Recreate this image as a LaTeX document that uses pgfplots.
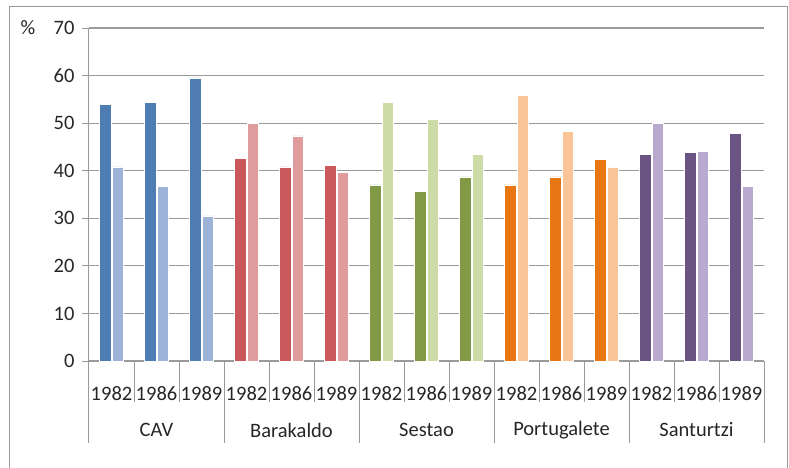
\documentclass[border=0pt]{standalone}
\usepackage{pgfplots}
\pgfplotsset{compat=1.18}
\usepackage{fontspec}
\setmainfont{Carlito}
\definecolor{cavD}{HTML}{4F7DB3}
\definecolor{cavL}{HTML}{9DB2D7}
\definecolor{barD}{HTML}{C9595A}
\definecolor{barL}{HTML}{E09C9C}
\definecolor{sesD}{HTML}{829A45}
\definecolor{sesL}{HTML}{CDDCA6}
\definecolor{porD}{HTML}{E87713}
\definecolor{porL}{HTML}{FAC597}
\definecolor{sanD}{HTML}{6A5484}
\definecolor{sanL}{HTML}{B9A9CF}
\definecolor{gridc}{HTML}{9A9A9A}
\definecolor{txt}{HTML}{262626}
\begin{document}
\begin{tikzpicture}[x=1pt,y=1pt]
\useasboundingbox (0,0) rectangle (789,-467);
\draw[gridc, line width=1pt] (9.5,-600) -- (9.5,-6.5) -- (787.5,-6.5) -- (787.5,-600);
\begin{axis}[
  at={(89pt,-361pt)}, anchor=south west,
  scale only axis, width=675pt, height=333pt,
  xmin=-0.5, xmax=14.5, ymin=0, ymax=70,
  axis x line=bottom, axis y line=left,
  axis line style={-, draw=gridc, line width=1pt},
  ytick={0,10,...,70},
  ymajorgrids, grid style={gridc, line width=1.2pt},
  ytick align=outside, major tick length=7pt,
  tick style={gridc, line width=1pt},
  xtick={0,...,14},
  xtick style={draw=none},
  xticklabels={1982,1986,1989,1982,1986,1989,1982,1986,1989,1982,1986,1989,1982,1986,1989},
  xticklabel style={anchor=center, yshift=-29pt},
  yticklabel style={anchor=east, xshift=-4pt},
  ticklabel style={font=\fontsize{20.5}{24}\selectfont, text=txt},
  /pgf/number format/assume math mode=true,
  clip=false,
]
\addplot[ybar, bar width=11.5pt, bar shift=-6.3pt, fill=cavD, draw=white, line width=0.8pt] coordinates {(0,54.0)(1,54.4)(2,59.5)};
\addplot[ybar, bar width=11.5pt, bar shift=6.5pt, fill=cavL, draw=white, line width=0.8pt] coordinates {(0,40.8)(1,36.6)(2,30.5)};
\addplot[ybar, bar width=11.5pt, bar shift=-6.3pt, fill=barD, draw=white, line width=0.8pt] coordinates {(3,42.5)(4,40.8)(5,41.1)};
\addplot[ybar, bar width=11.5pt, bar shift=6.5pt, fill=barL, draw=white, line width=0.8pt] coordinates {(3,50.0)(4,47.3)(5,39.7)};
\addplot[ybar, bar width=11.5pt, bar shift=-6.3pt, fill=sesD, draw=white, line width=0.8pt] coordinates {(6,37.0)(7,35.7)(8,38.7)};
\addplot[ybar, bar width=11.5pt, bar shift=6.5pt, fill=sesL, draw=white, line width=0.8pt] coordinates {(6,54.4)(7,50.7)(8,43.4)};
\addplot[ybar, bar width=11.5pt, bar shift=-6.3pt, fill=porD, draw=white, line width=0.8pt] coordinates {(9,37.0)(10,38.7)(11,42.4)};
\addplot[ybar, bar width=11.5pt, bar shift=6.5pt, fill=porL, draw=white, line width=0.8pt] coordinates {(9,55.8)(10,48.3)(11,40.8)};
\addplot[ybar, bar width=11.5pt, bar shift=-6.3pt, fill=sanD, draw=white, line width=0.8pt] coordinates {(12,43.5)(13,43.9)(14,47.9)};
\addplot[ybar, bar width=11.5pt, bar shift=6.5pt, fill=sanL, draw=white, line width=0.8pt] coordinates {(12,50.0)(13,44.1)(14,36.7)};
\pgfplotsinvokeforeach{0.5,1.5,3.5,4.5,6.5,7.5,9.5,10.5,12.5,13.5}{
  \draw[gridc, line width=1pt] (axis cs:#1,0) -- ++(0pt,-41pt);
}
\pgfplotsinvokeforeach{-0.5,2.5,5.5,8.5,11.5,14.5}{
  \draw[gridc, line width=1pt] (axis cs:#1,0) -- ++(0pt,-82pt);
}
\node[font=\fontsize{20.5}{24}\selectfont, text=txt] at ([yshift=-69pt]axis cs:1,0) {CAV};
\node[font=\fontsize{20.5}{24}\selectfont, text=txt] at ([yshift=-69pt]axis cs:4,0) {Barakaldo};
\node[font=\fontsize{20.5}{24}\selectfont, text=txt] at ([yshift=-69pt]axis cs:7,0) {Sestao};
\node[font=\fontsize{20.5}{24}\selectfont, text=txt] at ([yshift=-69pt]axis cs:10,0) {Portugalete};
\node[font=\fontsize{20.5}{24}\selectfont, text=txt] at ([yshift=-69pt]axis cs:13,0) {Santurtzi};
\node[font=\fontsize{20.5}{24}\selectfont, text=txt] at ([xshift=-61pt]rel axis cs:0,1) {\%};
\end{axis}
\end{tikzpicture}
\end{document}
